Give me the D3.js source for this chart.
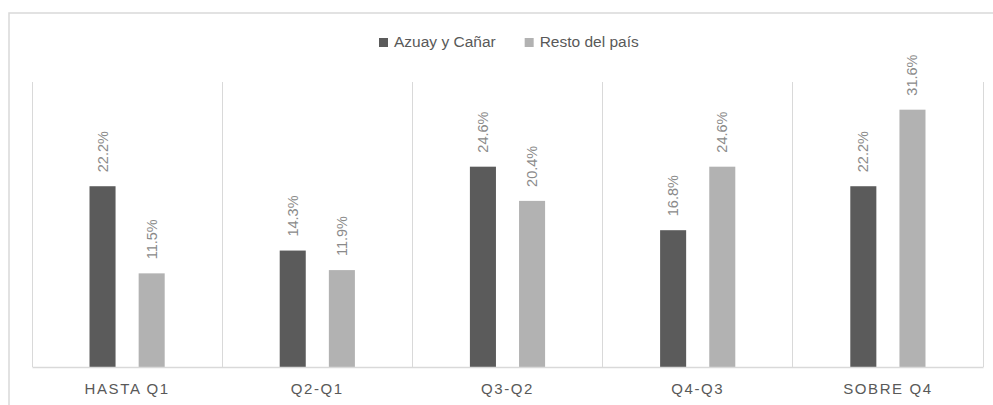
<!DOCTYPE html>
<html>
<head>
<meta charset="utf-8">
<script src="https://cdn.jsdelivr.net/npm/d3@7/dist/d3.min.js"></script>
<style>
  html, body { margin: 0; padding: 0; background: #fff; }
  svg { display: block; font-family: "Liberation Sans", Arial, sans-serif; }
</style>
</head>
<body>
<svg id="chart" width="993" height="405"></svg>
<script>
const categories = ["HASTA Q1", "Q2-Q1", "Q3-Q2", "Q4-Q3", "SOBRE Q4"];
const series = ["Azuay y Cañar", "Resto del país"];
const azuayCanar = [22.2, 14.3, 24.6, 16.8, 22.2];
const restoPais = [11.5, 11.9, 20.4, 24.6, 31.6];
const seriesValues = [azuayCanar, restoPais];
const colors = ["#5b5b5b", "#b2b2b2"];

const svg = d3.select("#chart");
const plot = { left: 32, right: 983, top: 82, bottom: 367 };

// outer chart border (top & left visible)
svg.append("rect")
  .attr("x", 9).attr("y", 13)
  .attr("width", 1100).attr("height", 600)
  .attr("fill", "none")
  .attr("stroke", "#d9d9d9")
  .attr("stroke-width", 1.5);

const x = d3.scaleBand().domain(categories).range([plot.left, plot.right]).padding(0);
const x1 = d3.scaleBand().domain(series).range([0, x.bandwidth()]).paddingInner(0.47).paddingOuter(1.17);
const y = d3.scaleLinear().domain([0, 35]).range([plot.bottom, plot.top]);

// vertical category separators
const bounds = categories.map(c => x(c)).concat([x(categories[categories.length - 1]) + x.bandwidth()]);
svg.append("g").selectAll("line").data(bounds).join("line")
  .attr("x1", d => d).attr("x2", d => d)
  .attr("y1", plot.top).attr("y2", plot.bottom)
  .attr("stroke", "#d9d9d9").attr("stroke-width", 1)
  .attr("shape-rendering", "crispEdges");

// bars
const rows = [];
categories.forEach((c, i) => series.forEach((s, j) => rows.push({ c, s, j, v: seriesValues[j][i] })));

svg.append("g").selectAll("rect").data(rows).join("rect")
  .attr("x", d => x(d.c) + x1(d.s))
  .attr("y", d => y(d.v))
  .attr("width", x1.bandwidth())
  .attr("height", d => y(0) - y(d.v))
  .attr("fill", d => colors[d.j]);

// value labels (rotated)
svg.append("g").selectAll("text").data(rows).join("text")
  .attr("transform", d => `translate(${x(d.c) + x1(d.s) + x1.bandwidth() / 2 + 5},${y(d.v) - 14}) rotate(-90)`)
  .attr("text-anchor", "start")
  .attr("font-size", 14.5)
  .attr("fill", "#8a8a8a")
  .text(d => d.v.toFixed(1) + "%");

// x axis
const xAxis = d3.axisBottom(x).tickSize(0).tickPadding(0);
const gx = svg.append("g").attr("transform", `translate(0,${plot.bottom})`).call(xAxis);
gx.select(".domain").attr("stroke", "#d9d9d9").attr("stroke-width", 1.5);
gx.selectAll(".tick text")
  .attr("y", 27)
  .attr("dy", 0)
  .attr("font-size", 15)
  .attr("font-family", "'Liberation Sans', Arial, sans-serif")
  .attr("letter-spacing", "1.6px")
  .attr("fill", "#595959");

// legend
const legend = svg.append("g");
const items = legend.selectAll("g").data(series).join("g");
items.append("rect").attr("width", 9).attr("height", 9).attr("y", 38)
  .attr("fill", (d, i) => colors[i]);
items.append("text").attr("x", 15).attr("y", 47)
  .attr("font-size", 15.5).attr("fill", "#595959").text(d => d);
const gap = 29;
const widths = [];
items.each(function () { widths.push(this.getBBox().width); });
let cx = 379;
items.attr("transform", (d, i) => { const t = `translate(${cx},0)`; cx += widths[i] + gap; return t; });
</script>
</body>
</html>
